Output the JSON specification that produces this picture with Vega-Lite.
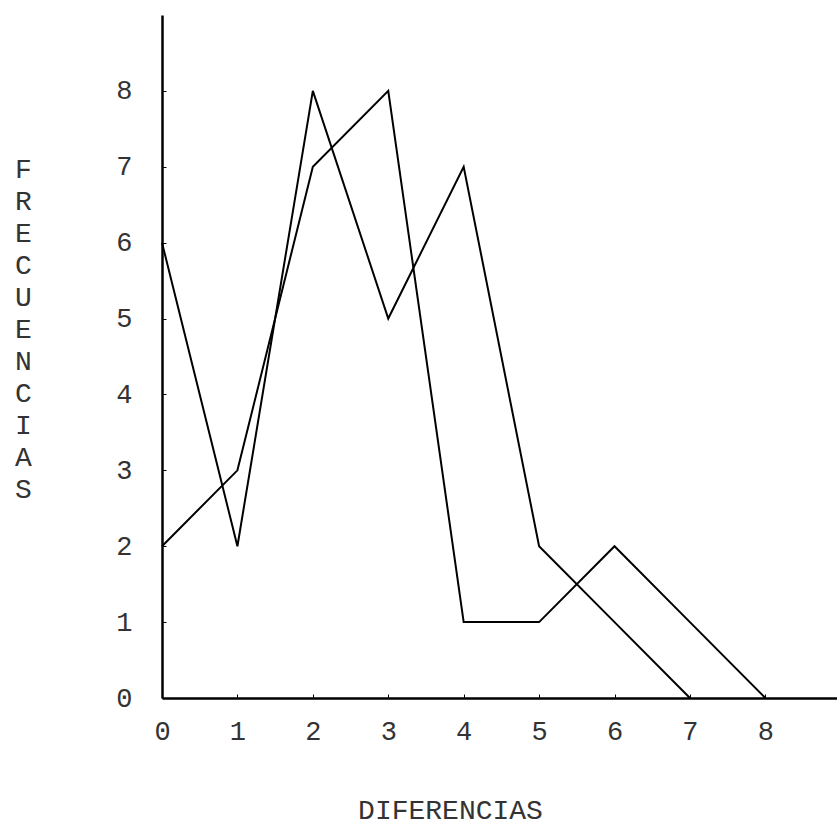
{
  "$schema": "https://vega.github.io/schema/vega-lite/v6.json",
  "autosize": {"type": "none"},
  "width": 675,
  "height": 683,
  "padding": {"left": 162, "top": 15, "right": 0, "bottom": 128},
  "background": "white",
  "config": {
    "view": {"stroke": null},
    "font": "Liberation Mono"
  },
  "data": {
    "values": [
      {"diferencia": 0, "frecuencia": 6, "serie": "A"},
      {"diferencia": 1, "frecuencia": 2, "serie": "A"},
      {"diferencia": 2, "frecuencia": 8, "serie": "A"},
      {"diferencia": 3, "frecuencia": 5, "serie": "A"},
      {"diferencia": 4, "frecuencia": 7, "serie": "A"},
      {"diferencia": 5, "frecuencia": 2, "serie": "A"},
      {"diferencia": 6, "frecuencia": 1, "serie": "A"},
      {"diferencia": 7, "frecuencia": 0, "serie": "A"},
      {"diferencia": 0, "frecuencia": 2, "serie": "B"},
      {"diferencia": 1, "frecuencia": 3, "serie": "B"},
      {"diferencia": 2, "frecuencia": 7, "serie": "B"},
      {"diferencia": 3, "frecuencia": 8, "serie": "B"},
      {"diferencia": 4, "frecuencia": 1, "serie": "B"},
      {"diferencia": 5, "frecuencia": 1, "serie": "B"},
      {"diferencia": 6, "frecuencia": 2, "serie": "B"},
      {"diferencia": 7, "frecuencia": 1, "serie": "B"},
      {"diferencia": 8, "frecuencia": 0, "serie": "B"}
    ]
  },
  "mark": {"type": "line", "color": "black", "strokeWidth": 2, "clip": false},
  "encoding": {
    "detail": {"field": "serie", "type": "nominal"},
    "x": {
      "field": "diferencia",
      "type": "quantitative",
      "scale": {"domain": [0, 8.95], "nice": false, "zero": false},
      "axis": {
        "values": [0, 1, 2, 3, 4, 5, 6, 7, 8],
        "grid": false,
        "domainColor": "black",
        "domainWidth": 2.5,
        "tickColor": "black",
        "tickSize": -4,
        "tickWidth": 1,
        "labelFont": "Liberation Mono",
        "labelFontSize": 27,
        "labelColor": "#333",
        "labelPadding": 24,
        "labelFlush": false,
        "title": "DIFERENCIAS",
        "titleFont": "Liberation Mono",
        "titleFontSize": 28,
        "titleFontWeight": "normal",
        "titleColor": "#333",
        "titleAnchor": "start",
        "titleAlign": "center",
        "titleBaseline": "alphabetic",
        "titleX": 288,
        "titleY": 120
      }
    },
    "y": {
      "field": "frecuencia",
      "type": "quantitative",
      "scale": {"domain": [0, 9], "nice": false},
      "axis": {
        "values": [0, 1, 2, 3, 4, 5, 6, 7, 8],
        "grid": false,
        "domainColor": "black",
        "domainWidth": 2.5,
        "tickColor": "black",
        "tickSize": -4,
        "tickWidth": 1,
        "labelFont": "Liberation Mono",
        "labelFontSize": 27,
        "labelColor": "#333",
        "labelPadding": 34,
        "labelFlush": false,
        "title": ["F", "R", "E", "C", "U", "E", "N", "C", "I", "A", "S"],
        "titleFont": "Liberation Mono",
        "titleFontSize": 28,
        "titleFontWeight": "normal",
        "titleColor": "#333",
        "titleAngle": 0,
        "titleAlign": "center",
        "titleBaseline": "top",
        "titleLineHeight": 32,
        "titleX": -139,
        "titleY": 140
      }
    }
  }
}
